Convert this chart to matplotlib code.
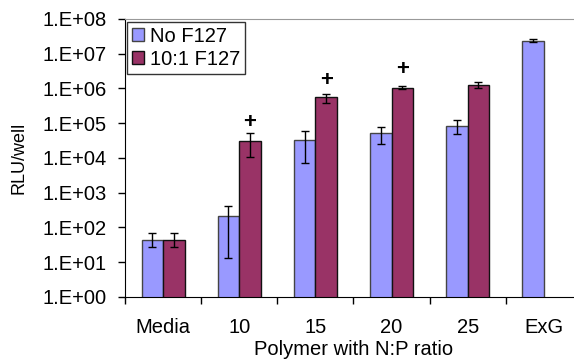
import matplotlib.pyplot as plt
import numpy as np

plt.rcParams['font.family'] = ['Liberation Sans', 'DejaVu Sans']

# data
groups = ['Media', '10', '15', '20', '25', 'ExG']
no_f127 = [45, 210, 34000, 52000, 86000, 2.4e7]
no_f127_lo = [27, 13, 7200, 26000, 50000, 2.15e7]
no_f127_hi = [68, 420, 60000, 80000, 120000, 2.6e7]
f127 = [45, 31000, 550000, 1.05e6, 1.26e6]
f127_lo = [27, 11000, 370000, 0.95e6, 1.02e6]
f127_hi = [68, 51000, 710000, 1.17e6, 1.55e6]
plus_idx = [1, 2, 3]
plus_y = [1.05e5, 1.66e6, 3.5e6]

fig = plt.figure(figsize=(5.74, 3.62), dpi=100)
ax = fig.add_axes([0.2178, 0.1796, 0.796, 0.768])

fs = 14.5
w = 0.283
x = np.arange(len(groups))
xr = x[:len(f127)]

err_b = [np.array(no_f127) - np.array(no_f127_lo), np.array(no_f127_hi) - np.array(no_f127)]
err_r = [np.array(f127) - np.array(f127_lo), np.array(f127_hi) - np.array(f127)]

ax.bar(x - w / 2, no_f127, w, color='#9999FF', edgecolor='#444444', lw=1,
       label='No F127', zorder=2)
ax.bar(xr + w / 2, f127, w, color='#993366', edgecolor='#111111', lw=1,
       label='10:1 F127', zorder=2)
ax.errorbar(x - w / 2, no_f127, yerr=err_b, fmt='none', ecolor='black',
            elinewidth=1, capsize=3, capthick=1, zorder=3)
ax.errorbar(xr + w / 2, f127, yerr=err_r, fmt='none', ecolor='black',
            elinewidth=1, capsize=3, capthick=1, zorder=3)

for i, yv in zip(plus_idx, plus_y):
    ax.text(i + w / 2, yv, '+', ha='center', va='center', fontsize=16,
            fontweight='bold')

ax.set_yscale('log')
ax.set_ylim(1, 1e8)
ax.set_xlim(-0.5, len(groups) - 0.5)
yt = [10.0 ** k for k in range(9)]
ax.set_yticks(yt)
ax.set_yticklabels(['1.E+%02d' % k for k in range(9)], fontsize=fs)
ax.yaxis.set_minor_locator(plt.NullLocator())
ax.set_xticks(x)
ax.set_xticklabels(groups, fontsize=fs)
ax.set_xticks(np.arange(len(groups) + 1) - 0.5, minor=True)
ax.tick_params(axis='x', which='major', length=0, pad=15)
ax.tick_params(axis='x', which='minor', length=5, width=1, direction='out')
ax.tick_params(axis='y', length=5, width=1, direction='out', pad=8)

ax.spines['top'].set_color('#999999')
ax.spines['right'].set_color('#999999')
ax.spines['left'].set_color('black')
ax.spines['bottom'].set_color('black')

ax.set_xlabel('Polymer with N:P ratio', fontsize=fs, labelpad=2.5)
ax.set_ylabel('RLU/well', fontsize=13, labelpad=11)

leg = ax.legend(loc='upper left', bbox_to_anchor=(0.004, 0.99), fontsize=fs,
                frameon=True, fancybox=False, handlelength=0.6, handleheight=0.6,
                handletextpad=0.3, borderpad=0.25, labelspacing=0.2,
                borderaxespad=0)
leg.get_frame().set_edgecolor('black')
leg.get_frame().set_linewidth(1)

fig.savefig('out.png', dpi=100)
